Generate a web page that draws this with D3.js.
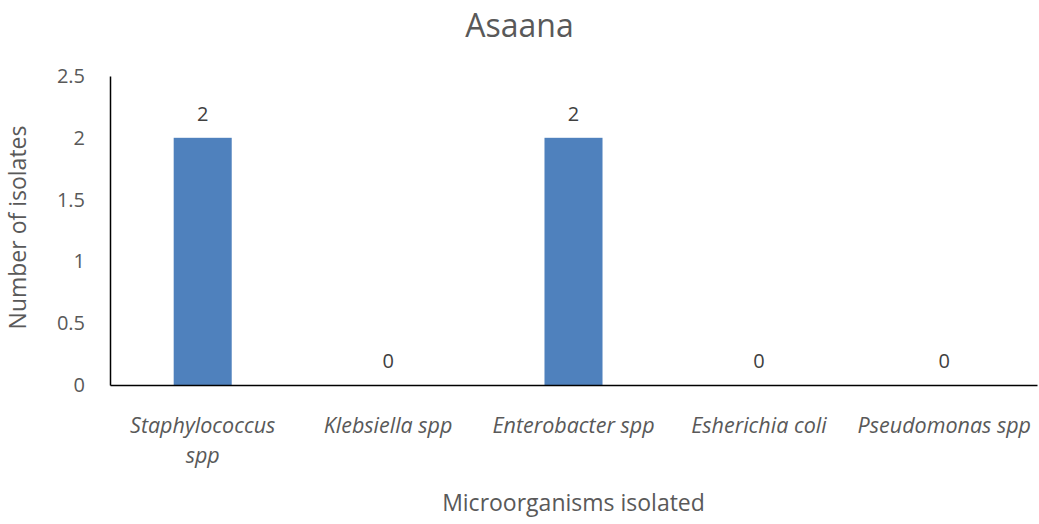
<!DOCTYPE html>
<html>
<head>
<meta charset="utf-8">
<script src="https://cdn.jsdelivr.net/npm/d3@7"></script>
<style>
  body { margin: 0; background: #fff; }
  text { font-family: "Open Sans", sans-serif; fill: #595959; }
</style>
</head>
<body>
<div id="wrapper"></div>
<script>
const categories = ["Staphylococcus spp", "Klebsiella spp", "Enterobacter spp", "Esherichia coli", "Pseudomonas spp"]
const categoryLines = [["Staphylococcus", "spp"], ["Klebsiella spp"], ["Enterobacter spp"], ["Esherichia coli"], ["Pseudomonas spp"]]
const isolates = [2, 0, 2, 0, 0]
const yTicks = [0, 0.5, 1, 1.5, 2, 2.5]

const dms = {
  width: 1039,
  height: 524,
  margins: { top: 76, right: 2, bottom: 139, left: 110 }
}
dms.boundedWidth = dms.width - dms.margins.left - dms.margins.right
dms.boundedHeight = dms.height - dms.margins.top - dms.margins.bottom

const svg = d3.select("#wrapper").append("svg")
  .attr("width", dms.width)
  .attr("height", dms.height)

const bounds = svg.append("g")
  .attr("transform", `translate(${dms.margins.left},${dms.margins.top})`)

const xScale = d3.scaleBand()
  .domain(categories)
  .range([0, dms.boundedWidth])
  .paddingInner(0.687)
  .paddingOuter(0.687 / 2)

const yScale = d3.scaleLinear()
  .domain([0, 2.5])
  .range([dms.boundedHeight, 0])

// bars
bounds.selectAll("rect.bar")
  .data(isolates)
  .join("rect")
  .attr("class", "bar")
  .attr("x", (d, i) => xScale(categories[i]))
  .attr("y", d => yScale(d))
  .attr("width", xScale.bandwidth())
  .attr("height", d => dms.boundedHeight - yScale(d))
  .attr("fill", "#4f81bd")

// data labels
bounds.selectAll("text.val")
  .data(isolates)
  .join("text")
  .attr("class", "val")
  .attr("x", (d, i) => xScale(categories[i]) + xScale.bandwidth() / 2)
  .attr("y", d => yScale(d) - 17)
  .attr("text-anchor", "middle")
  .style("font-size", "20px")
  .style("fill", "#404040")
  .text(d => d)

// y axis
const yAxis = bounds.append("g")
  .call(d3.axisLeft(yScale).tickValues(yTicks).tickSize(0).tickPadding(25).tickFormat(d3.format("")))
yAxis.select(".domain").attr("stroke", "#000").attr("stroke-width", 1.5)
yAxis.selectAll("text").style("font-size", "20px").style("fill", "#595959")

// x axis
const xAxis = bounds.append("g")
  .attr("transform", `translate(0,${dms.boundedHeight})`)
  .call(d3.axisBottom(xScale).tickSize(0).tickFormat(""))
xAxis.select(".domain").attr("stroke", "#000").attr("stroke-width", 1.5)

xAxis.selectAll(".tick")
  .each(function (d, i) {
    const t = d3.select(this).append("text")
      .attr("text-anchor", "middle")
      .attr("y", 48)
      .style("font-size", "21.5px")
      .style("font-style", "italic")
      .style("fill", "#595959")
    categoryLines[i].forEach((line, j) => {
      t.append("tspan").attr("x", 0).attr("dy", j === 0 ? 0 : 30).text(line)
    })
  })

// titles
svg.append("text")
  .attr("x", dms.width / 2)
  .attr("y", 37)
  .attr("text-anchor", "middle")
  .style("font-size", "32px")
  .text("Asaana")

svg.append("text")
  .attr("transform", `translate(26,${dms.margins.top + dms.boundedHeight / 2 - 3}) rotate(-90)`)
  .attr("text-anchor", "middle")
  .style("font-size", "23px")
  .text("Number of isolates")

svg.append("text")
  .attr("x", dms.margins.left + dms.boundedWidth / 2)
  .attr("y", 511)
  .attr("text-anchor", "middle")
  .style("font-size", "23px")
  .text("Microorganisms isolated")
</script>
</body>
</html>
